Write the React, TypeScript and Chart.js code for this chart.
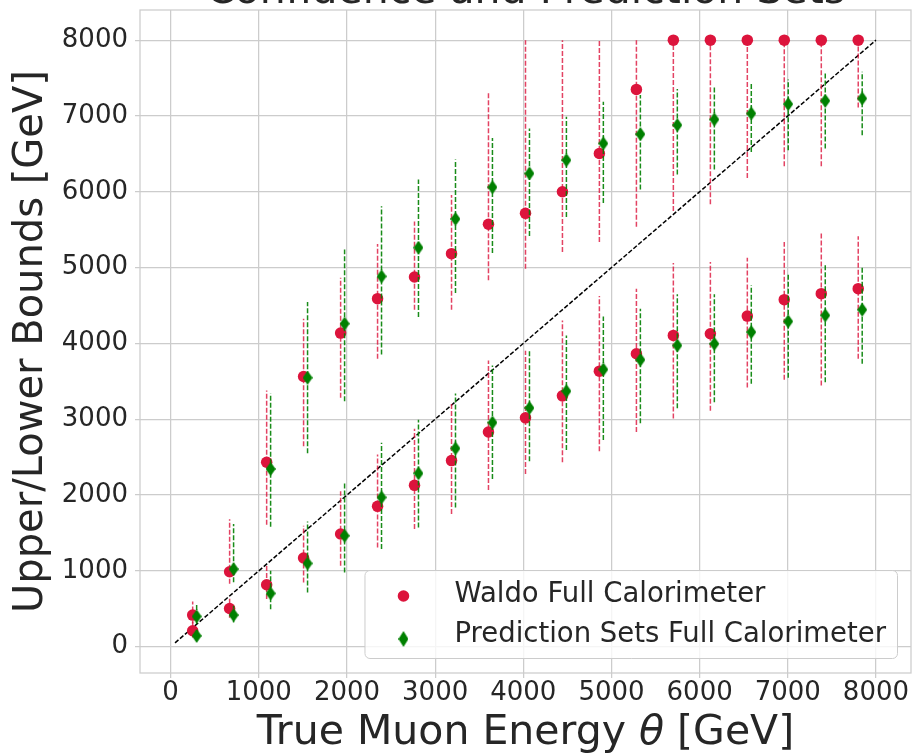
import React, { useEffect, useRef } from "react";
import { Chart, registerables } from "chart.js";

Chart.register(...registerables);

const FONT = "DejaVu Sans";
const TEXT = "#262626";
const GRID = "#cccccc";
const WALDO_COLOR = "#DC143C";
const WALDO_BAR = "rgba(220, 20, 60, 0.8)";
const PS_COLOR = "#008000";
const PS_BAR = "rgba(0, 128, 0, 0.9)";

const TITLE = "Confidence and Prediction Sets";
const X_TITLE_PARTS = ["True Muon Energy ", "θ", " [GeV]"];
const Y_TITLE = "Upper/Lower Bounds [GeV]";
const WALDO_LABEL = "Waldo Full Calorimeter";
const PS_LABEL = "Prediction Sets Full Calorimeter";

// True energy of each test bin (GeV); prediction-set markers are nudged right
const TRUE_ENERGY = [250, 669, 1089, 1508, 1928, 2347, 2766, 3186, 3605, 4025, 4444, 4863, 5283, 5702, 6122, 6541, 6960, 7380, 7799];
const PS_OFFSET = 45;

// Waldo upper bound: median, and spread (low / high) over repeated samples
const WALDO_UPPER = [416, 988, 2432, 3564, 4136, 4590, 4875, 5184, 5571, 5715, 6000, 6505, 7350, 8000, 8000, 8000, 8000, 8000, 8000];
const WALDO_UPPER_LO = [280, 830, 1609, 2643, 3282, 3797, 4444, 4444, 4832, 4986, 5205, 5338, 5540, 5745, 5835, 6183, 6337, 6337, 7113];
const WALDO_UPPER_HI = [596, 1679, 3379, 4326, 4867, 5310, 5607, 5958, 7311, 8000, 8000, 8000, 8000, 8000, 8000, 8000, 8000, 8000, 8000];

// Waldo lower bound
const WALDO_LOWER = [209, 503, 816, 1169, 1486, 1851, 2128, 2454, 2832, 3018, 3308, 3634, 3863, 4105, 4128, 4360, 4577, 4656, 4722];
const WALDO_LOWER_LO = [120, 380, 627, 847, 1067, 1309, 1552, 1750, 2067, 2278, 2432, 2577, 2832, 3010, 3110, 3418, 3520, 3445, 3797];
const WALDO_LOWER_HI = [330, 640, 1090, 1596, 2049, 2533, 2873, 3200, 3775, 3903, 4303, 4624, 4722, 5060, 5073, 5131, 5338, 5448, 5413];

// Prediction-set upper bound
const PS_UPPER = [398, 1023, 2344, 3547, 4260, 4884, 5263, 5641, 6060, 6241, 6417, 6637, 6760, 6879, 6954, 7033, 7156, 7200, 7231];
const PS_UPPER_LO = [300, 850, 1582, 2551, 3237, 3854, 4347, 4664, 5192, 5415, 5668, 5853, 6030, 6227, 6293, 6526, 6549, 6571, 6747];
const PS_UPPER_HI = [552, 1618, 3340, 4545, 5237, 5809, 6162, 6426, 6710, 6835, 6989, 7187, 7275, 7354, 7385, 7438, 7482, 7583, 7583];

// Prediction-set lower bound
const PS_LOWER = [143, 416, 702, 1098, 1463, 1969, 2286, 2615, 2956, 3148, 3370, 3656, 3784, 3973, 3995, 4149, 4290, 4369, 4444];
const PS_LOWER_LO = [67, 319, 495, 715, 979, 1288, 1573, 1837, 2212, 2445, 2595, 2727, 2947, 3144, 3224, 3467, 3546, 3488, 3731];
const PS_LOWER_HI = [220, 539, 1001, 1652, 2168, 2688, 2992, 3340, 3709, 3898, 4105, 4356, 4458, 4647, 4647, 4766, 4911, 5043, 5016];

// Identity reference line
const DIAGONAL = [50, 8000];

const AXIS_TICKS = [0, 1000, 2000, 3000, 4000, 5000, 6000, 7000, 8000];
const AXIS_MIN = -347.5;
const AXIS_MAX = 8397.5;

function thinDiamond(w: number, h: number, color: string): HTMLCanvasElement {
  const c = document.createElement("canvas");
  c.width = w;
  c.height = h;
  const g = c.getContext("2d")!;
  g.fillStyle = color;
  g.beginPath();
  g.moveTo(w / 2, 0);
  g.lineTo(w, h / 2);
  g.lineTo(w / 2, h);
  g.lineTo(0, h / 2);
  g.closePath();
  g.fill();
  return c;
}

function points(xs: number[], ys: number[], dx = 0) {
  return xs.map((x, i) => ({ x: x + dx, y: ys[i] }));
}

// Dashed vertical error bars, painted just before each scatter series
const errorBars = {
  id: "errorBars",
  beforeDatasetDraw(chart: any, args: any) {
    const ds = chart.data.datasets[args.index];
    if (!ds.errLow) return;
    const { ctx, chartArea, scales } = chart;
    const xs = scales.x;
    const ys = scales.y;
    ctx.save();
    ctx.beginPath();
    ctx.rect(chartArea.left, chartArea.top, chartArea.right - chartArea.left, chartArea.bottom - chartArea.top);
    ctx.clip();
    ctx.strokeStyle = ds.errColor;
    ctx.lineWidth = 1.5;
    ctx.setLineDash([5, 2]);
    ds.data.forEach((p: any, i: number) => {
      const px = xs.getPixelForValue(p.x);
      ctx.beginPath();
      ctx.moveTo(px, ys.getPixelForValue(ds.errLow[i]));
      ctx.lineTo(px, ys.getPixelForValue(ds.errHigh[i]));
      ctx.stroke();
    });
    ctx.restore();
  },
};

type LegendEntry = { label: string; draw: (ctx: CanvasRenderingContext2D, x: number, y: number) => void };

// Plot frame, titles and legend box
const decorations = {
  id: "decorations",
  beforeDatasetsDraw(chart: any) {
    const { ctx, chartArea: a } = chart;
    ctx.save();
    ctx.strokeStyle = GRID;
    ctx.lineWidth = 1.25;
    ctx.strokeRect(a.left, a.top, a.right - a.left, a.bottom - a.top);
    ctx.restore();
  },
  afterDraw(chart: any, _args: any, opts: any) {
    const { ctx, chartArea: a } = chart;
    const cx = (a.left + a.right) / 2;
    ctx.save();
    // title, mostly above the canvas edge
    ctx.fillStyle = TEXT;
    ctx.font = `41px "${FONT}"`;
    ctx.textAlign = "center";
    ctx.textBaseline = "alphabetic";
    ctx.fillText(TITLE, cx, a.top - 7);

    // x-axis title with an italic theta
    const fonts = [`41px "${FONT}"`, `italic 41px "${FONT}"`, `41px "${FONT}"`];
    const widths = X_TITLE_PARTS.map((t, i) => {
      ctx.font = fonts[i];
      return ctx.measureText(t).width;
    });
    let tx = cx - widths.reduce((s, w) => s + w, 0) / 2;
    ctx.textAlign = "left";
    X_TITLE_PARTS.forEach((t, i) => {
      ctx.font = fonts[i];
      ctx.fillText(t, tx, chart.height - 11.5);
      tx += widths[i];
    });

    // legend
    ctx.font = `27.5px "${FONT}"`;
    const entries = (opts.entries || []) as LegendEntry[];
    if (!entries.length) {
      ctx.restore();
      return;
    }
    const textW = Math.max(...entries.map((e) => ctx.measureText(e.label).width));
    const boxW = textW + 101;
    const boxH = 88;
    const right = a.right - 14;
    const bottom = a.bottom - 15;
    const left = right - boxW;
    const top = bottom - boxH;
    ctx.beginPath();
    ctx.roundRect(left + 0.5, top + 0.5, boxW, boxH, 5);
    ctx.fillStyle = "rgba(255,255,255,0.8)";
    ctx.fill();
    ctx.strokeStyle = GRID;
    ctx.lineWidth = 1;
    ctx.stroke();
    entries.forEach((e, i) => {
      e.draw(ctx, left + 39, top + 26 + i * 43);
      ctx.fillStyle = TEXT;
      ctx.textAlign = "left";
      ctx.textBaseline = "alphabetic";
      ctx.fillText(e.label, left + 90, top + 32 + i * 40);
    });
    ctx.restore();
  },
};

export default function App() {
  const ref = useRef<HTMLCanvasElement>(null);

  useEffect(() => {
    const canvas = ref.current!;
    const diamond = thinDiamond(10, 14, PS_COLOR);
    const legendDiamond = thinDiamond(10, 16, PS_COLOR);

    const waldo = (label: string, ys: number[], lo: number[], hi: number[]) => ({
      type: "scatter" as const,
      label,
      data: points(TRUE_ENERGY, ys),
      errLow: lo,
      errHigh: hi,
      errColor: WALDO_BAR,
      pointStyle: "circle",
      pointRadius: 5.75,
      pointBackgroundColor: WALDO_COLOR,
      pointBorderWidth: 0,
      order: 1,
    });
    const ps = (label: string, ys: number[], lo: number[], hi: number[]) => ({
      type: "scatter" as const,
      label,
      data: points(TRUE_ENERGY, ys, PS_OFFSET),
      errLow: lo,
      errHigh: hi,
      errColor: PS_BAR,
      pointStyle: diamond,
      pointRadius: 7,
      pointBackgroundColor: PS_COLOR,
      pointBorderWidth: 0,
      order: 0,
    });

    const legendEntries: LegendEntry[] = [
      {
        label: WALDO_LABEL,
        draw: (c, x, y) => {
          c.beginPath();
          c.arc(x, y, 5.8, 0, Math.PI * 2);
          c.fillStyle = WALDO_COLOR;
          c.fill();
        },
      },
      {
        label: PS_LABEL,
        draw: (c, x, y) => {
          c.drawImage(legendDiamond, x - 5, y - 8);
        },
      },
    ];

    const chart = new Chart(canvas, {
      type: "scatter",
      data: {
        datasets: [
          ps(PS_LABEL, PS_UPPER, PS_UPPER_LO, PS_UPPER_HI),
          ps(PS_LABEL, PS_LOWER, PS_LOWER_LO, PS_LOWER_HI),
          waldo(WALDO_LABEL, WALDO_UPPER, WALDO_UPPER_LO, WALDO_UPPER_HI),
          waldo(WALDO_LABEL, WALDO_LOWER, WALDO_LOWER_LO, WALDO_LOWER_HI),
          {
            type: "line",
            label: "identity",
            data: points(DIAGONAL, DIAGONAL),
            borderColor: "#000000",
            borderWidth: 1.5,
            borderDash: [4.5, 2],
            pointRadius: 0,
            fill: false,
            order: 2,
          } as any,
        ] as any,
      },
      options: {
        responsive: false,
        animation: false,
        devicePixelRatio: 1,
        events: [],
        layout: { autoPadding: false, padding: { left: 0, top: 10, right: 3, bottom: 0 } },
        plugins: {
          legend: { display: false },
          tooltip: { enabled: false },
          title: { display: false },
          decorations: { entries: legendEntries },
        } as any,
        scales: {
          x: {
            type: "linear",
            min: AXIS_MIN,
            max: AXIS_MAX,
            afterBuildTicks: (axis: any) => {
              axis.ticks = AXIS_TICKS.map((v) => ({ value: v }));
            },
            afterFit: (axis: any) => {
              axis.height = 82;
              axis.paddingLeft = 0;
              axis.paddingRight = 0;
            },
            grid: { color: GRID, lineWidth: 1.25, tickLength: 5, drawTicks: true },
            border: { display: false },
            ticks: {
              font: { family: FONT, size: 26 },
              color: TEXT,
              padding: 0,
              maxRotation: 0,
              autoSkip: false,
              callback: (v: any) => String(v),
            },
            title: { display: false },
          },
          y: {
            type: "linear",
            min: AXIS_MIN,
            max: AXIS_MAX,
            afterBuildTicks: (axis: any) => {
              axis.ticks = AXIS_TICKS.map((v) => ({ value: v }));
            },
            afterFit: (axis: any) => {
              axis.width = 140;
              axis.paddingTop = 0;
              axis.paddingBottom = 0;
            },
            grid: { color: GRID, lineWidth: 1.25, tickLength: 5, drawTicks: true },
            border: { display: false },
            ticks: {
              font: { family: FONT, size: 26 },
              color: TEXT,
              padding: 7,
              autoSkip: false,
              callback: (v: any) => String(v),
            },
            title: {
              display: true,
              text: Y_TITLE,
              font: { family: FONT, size: 40 },
              color: TEXT,
              padding: { top: 8, bottom: 0 },
            },
          },
        },
      },
      plugins: [errorBars, decorations],
    });

    return () => chart.destroy();
  }, []);

  return (
    <div style={{ position: "absolute", left: 0, top: 0, width: 914, height: 755, background: "#ffffff" }}>
      <canvas ref={ref} width={914} height={755} />
    </div>
  );
}
